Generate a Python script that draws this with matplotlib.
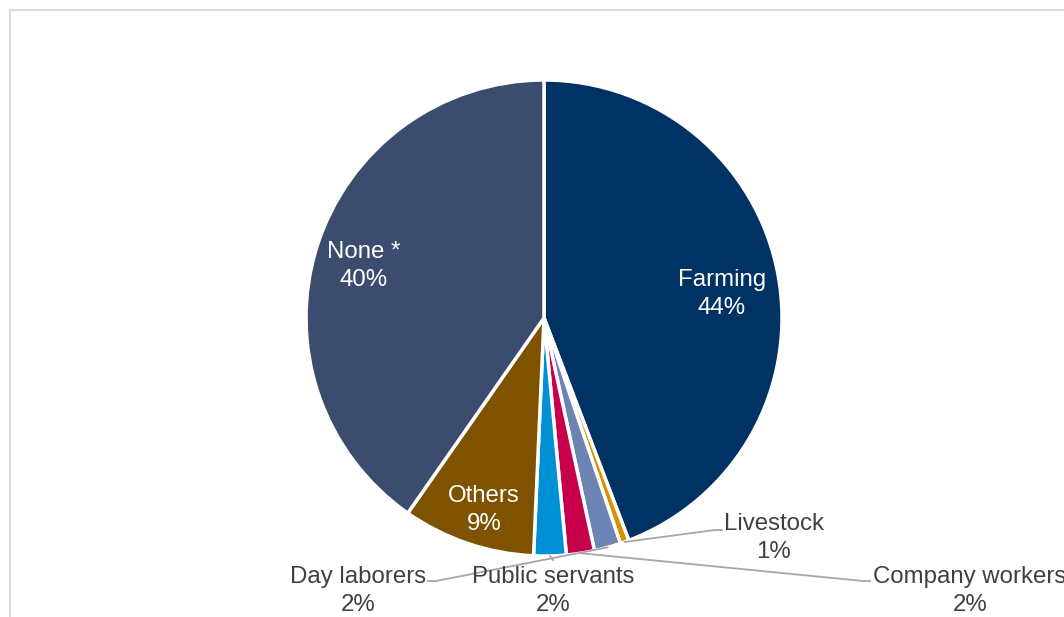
import numpy as np
import matplotlib.pyplot as plt

categories = ["Farming", "Livestock", "Company workers", "Public servants",
              "Day laborers", "Others", "None *"]
shares = [44.2, 0.6, 1.8, 1.9, 2.2, 9.0, 40.3]
colors = ["#003264", "#D99100", "#6C84B4", "#C8004B", "#0090D5", "#7F5200", "#3B4C6F"]

W, H = 1064, 617
fig = plt.figure(figsize=(W / 100, H / 100), dpi=100)
ax = fig.add_axes([0, 0, 1, 1])

# chart frame (cut by the image edges on the right and bottom)
ax.plot([10, 10, W + 5], [-5, H - 10, H - 10], color="#D9D9D9", lw=1.5,
        solid_joinstyle="miter")

cx, cy, R = 544, H - 318, 238
wedges, _ = ax.pie(shares, colors=colors, startangle=90, counterclock=False,
                   center=(cx, cy), radius=R, frame=True,
                   wedgeprops=dict(edgecolor="white", linewidth=2.5))
ax.set_xlim(0, W)
ax.set_ylim(0, H)
ax.axis("off")

font = ["Liberation Sans", "DejaVu Sans"]
fs = 17.3
ls = 1.32
pct = [f"{int(v + 0.5)}%" for v in shares]

def rim_point(i):
    # point on the rim at the middle of wedge i (clockwise from 12 o'clock)
    before = sum(shares[:i]) / sum(shares)
    mid = before + shares[i] / sum(shares) / 2
    a = 2 * np.pi * mid
    return cx + R * np.sin(a), cy + R * np.cos(a)

# inside labels
inside = {0: (722, 294), 6: (364, 266), 5: (484, 510)}
for i, (x, y) in inside.items():
    ax.text(x, H - y, f"{categories[i]}\n{pct[i]}", ha="center", va="center",
            color="white", fontsize=fs, family=font, linespacing=ls)

# outside labels: label centre, leader anchor wedge, elbow points
outside = [
    (1, (774, 538), 1, [(715, 530), (722, 530)]),
    (2, (970, 591), 3, [(863, 581), (870, 581)]),
    (3, (553, 591), 4, [(553, 560)]),
    (4, (358, 591), 2, [(436, 581), (428, 581)]),
]
for i, (x, y), anchor, elbow in outside:
    ax0, ay0 = rim_point(anchor)
    xs = [ax0] + [p[0] for p in elbow]
    ys = [ay0] + [H - p[1] for p in elbow]
    ax.plot(xs, ys, color="#A6A6A6", lw=1.3, zorder=1)
    ax.text(x, H - y, f"{categories[i]}\n{pct[i]}", ha="center", va="center",
            color="#404040", fontsize=fs, family=font, linespacing=ls)

fig.savefig("out.png", dpi=100)
